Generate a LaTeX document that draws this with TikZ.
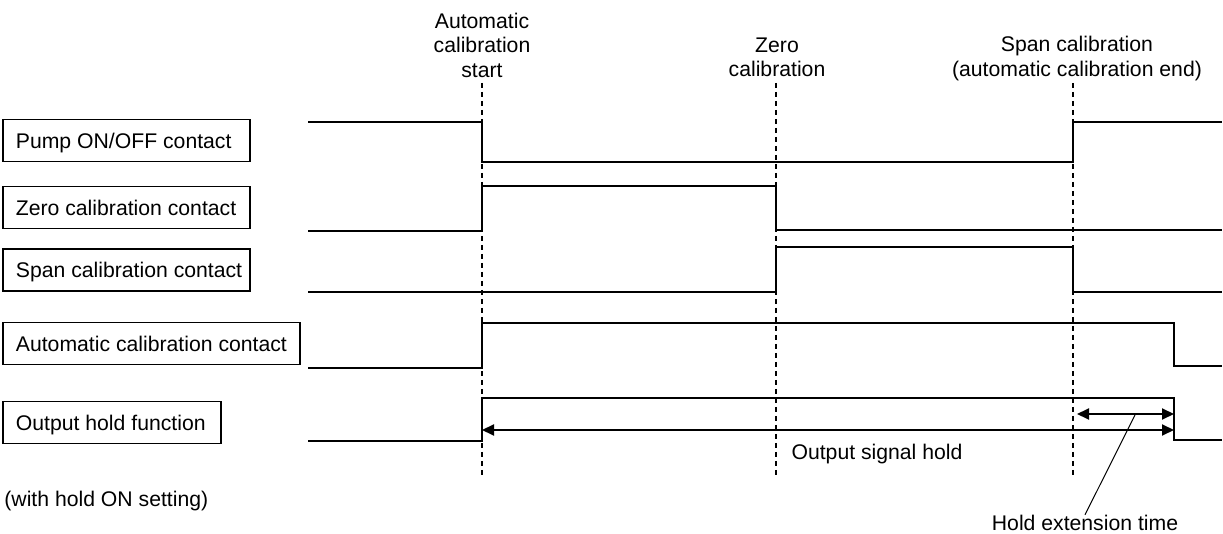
\documentclass[tikz,border=0pt]{standalone}
\usepackage{fontspec}
\setmainfont{Liberation Sans}
\usetikzlibrary{arrows.meta}
\begin{document}
\begin{tikzpicture}[x=0.5pt,y=-0.5pt,
  every node/.style={font=\fontsize{10.6}{12.25}\selectfont, inner sep=0pt},
  sigbox/.style={draw, line width=0.9pt, inner xsep=6.5pt, inner ysep=0pt, minimum height=21pt, text depth=0pt, anchor=west},
  sig/.style={line width=1pt, line join=miter},
  mark line/.style={line width=0.9pt, dash pattern=on 2.5pt off 2pt},
  dim/.style={line width=1pt, {Triangle[length=6pt,width=5.5pt]}-{Triangle[length=6pt,width=5.5pt]}},
  leader/.style={line width=0.5pt},
  lbl/.style={align=center}]
\useasboundingbox (0,0) rectangle (1223,534);

% boxes
\node[sigbox] (pump) at (2,140.5) {\makebox[110.5pt][l]{Pump ON/OFF contact}};
\node[sigbox] (zero) at (2,207.5) {\makebox[110.5pt][l]{Zero calibration contact}};
\node[sigbox] (span) at (2,270) {\makebox[110.5pt][l]{Span calibration contact}};
\node[sigbox] (auto) at (2,343.5) {\makebox[135.5pt][l]{Automatic calibration contact}};
\node[sigbox] (hold) at (2,422.5) {\makebox[96pt][l]{Output hold function}};
\node[anchor=west] (note) at (4,501) {(with hold ON setting)};

% top labels
\node[lbl] (lstart) at (482,45) {Automatic\\calibration\\start};
\node[lbl] (lzero) at (777,57.5) {Zero\\calibration};
\node[lbl] (lspan) at (1077,58.5) {Span calibration\\(automatic calibration end)};

% event markers
\coordinate (t1top) at (482,83);  \coordinate (t1bot) at (482,475);
\coordinate (t2top) at (776,83);  \coordinate (t2bot) at (776,475);
\coordinate (t3top) at (1073,83); \coordinate (t3bot) at (1073,475);
\draw[mark line] (t1top) -- (t1bot);
\draw[mark line] (t2top) -- (t2bot);
\draw[mark line] (t3top) -- (t3bot);

% waveforms
\draw[sig] (308,122) -- (482,122) -- (482,162) -- (1073,162) -- (1073,122) -- (1222,122);
\draw[sig] (308,231) -- (482,231) -- (482,186) -- (776,186) -- (776,230) -- (1222,230);
\draw[sig] (308,292) -- (776,292) -- (776,247) -- (1073,247) -- (1073,292) -- (1222,292);
\draw[sig] (308,368) -- (482,368) -- (482,323) -- (1174,323) -- (1174,366) -- (1222,366);
\draw[sig] (308,441) -- (482,441) -- (482,398) -- (1174,398) -- (1174,440) -- (1222,440);

% dimension arrows
\coordinate (hsA) at (482,430); \coordinate (hsB) at (1174,430);
\coordinate (heA) at (1077,414); \coordinate (heB) at (1174,414);
\draw[dim] (hsA) -- (hsB);
\draw[dim] (heA) -- (heB);
\node (lhold) at (877,454) {Output signal hold};
\node (lext) at (1085,523) {Hold extension time};
\coordinate (leadtop) at (1135,415);
\draw[leader] (leadtop) -- (lext.north);
\end{tikzpicture}
\end{document}
